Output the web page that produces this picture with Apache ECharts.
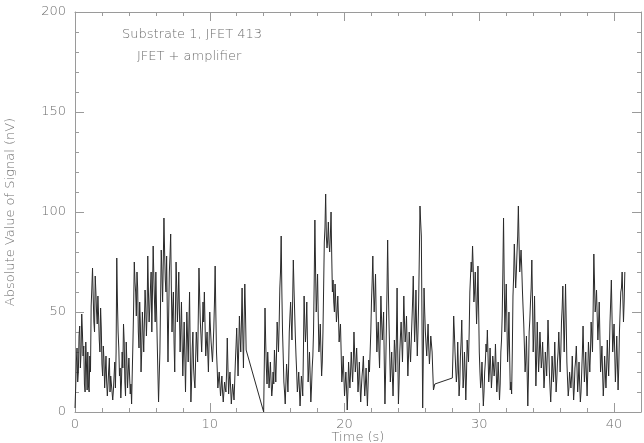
<!DOCTYPE html>
<html>
<head>
<meta charset="utf-8">
<script src="https://cdn.jsdelivr.net/npm/echarts@6/dist/echarts.min.js"></script>
<style>html,body{margin:0;padding:0;background:#fff}#c{width:644px;height:443px}</style>
</head>
<body>
<div id="c"></div>
<script>
// Sample interval of the recording (s) and start time of each recorded stretch
const sampleStep = 0.1;
const halfStep = 0.05;
const seg1Start = 0.0;
const seg2Start = 14.0;
const seg3Start = 28.0;

// Absolute value of signal (nV): samples at start + i*0.1 s
const seg1Values = [
  2,25,15,38,22,49,28,14,35,11,
  13,28,53,72,45,68,50,58,36,52,
  24,33,12,28,8,21,10,14,6,18,
  12,77,40,18,7,30,44,15,35,12,
  27,9,4,35,75,60,70,40,55,20,
  50,30,61,38,78,45,62,40,83,55,
  70,35,5,30,81,55,97,66,78,25,
  70,89,40,60,20,75,45,70,30,55,
  18,45,10,50,25,60,5,32,22,12,
  40,25,72,45,30,55,60,28,40,20,
  50,35,25,42,73,30,12,20,8,18,
  5,15,10,37,9,20,4,14,6,25,
  42,18,48,30,62,22,64,31
];
// ...and the samples in between (start + i*0.1 + 0.05 s)
const seg1Mid = [
  12,32,20,43,30,40,33,10,24,30,
  10,20,62,58,40,60,44,48,30,42,
  18,26,20,15,14,27,18,10,11,25,
  30,55,32,22,15,22,35,8,25,20,
  18,14,20,52,65,48,62,32,44,30,
  40,45,52,50,60,52,70,60,68,45,
  52,20,18,55,70,75,80,60,50,48,
  78,62,52,35,48,62,55,50,42,35,
  30,28,30,38,42,30,15,40,16,26,
  34,48,58,38,42,45,44,34,30,35,
  42,30,33,55,50,22,16,14,13,10,
  10,12,20,22,16,12,9,10,15,33,
  30,32,38,45,40,45,50
];
const seg2Values = [
  0,52,22,30,12,25,8,20,31,15,
  45,30,62,88,40,15,4,24,10,40,
  55,36,76,50,28,10,20,3,18,8,
  58,35,55,15,30,5,22,40,96,50,
  69,30,44,18,40,85,109,82,95,80,
  100,60,55,64,45,58,35,44,15,28,
  8,20,1,25,12,30,15,40,20,32,
  10,25,5,18,28,8,22,3,26,30,
  55,78,50,69,30,45,22,58,36,50,
  4,40,86,45,15,30,8,36,20,62,
  4,30,45,25,58,35,48,18,40,25,
  45,68,35,61,28,55,103,88,2,62,
  40,28,44,24,38,30,11,14
];
const seg2Mid = [
  25,35,14,22,18,15,12,14,24,28,
  38,44,70,60,28,10,14,18,22,48,
  45,55,62,38,20,14,12,10,14,30,
  45,42,35,22,18,12,28,65,72,58,
  48,35,30,25,62,92,88,86,84,88,
  78,66,50,55,50,48,40,30,20,18,
  14,12,10,18,20,22,25,30,25,22,
  16,14,12,22,16,14,12,14,20,40,
  65,62,58,48,38,32,40,46,42,25,
  20,60,62,30,22,18,20,30,38,30,
  15,38,35,40,45,40,32,28,32,35,
  55,50,45,42,40,78,95,45,30,50,
  34,36,32,30,34,20,12
];
const seg3Values = [
  17,48,30,15,35,8,28,46,12,30,
  6,36,25,60,75,83,55,70,44,73,
  30,12,25,3,20,34,41,15,32,12,
  28,18,34,10,25,6,30,48,97,40,
  64,25,50,11,9,58,84,62,80,103,
  70,81,61,44,20,38,3,40,55,76,
  30,58,13,45,20,40,22,35,12,30,
  18,46,20,5,28,15,35,10,25,40,
  20,45,63,30,64,25,8,20,12,28,
  6,22,33,10,25,5,20,43,15,30,
  8,35,20,45,30,79,50,61,36,55,
  20,33,8,28,12,36,18,45,66,30,
  44,15,38,11,40,60,70,45,70
];
const seg3Mid = [
  30,40,22,20,22,14,35,28,18,20,
  18,30,40,68,70,72,60,58,55,52,
  20,16,14,10,25,30,28,20,22,18,
  24,22,22,15,16,14,36,70,66,52,
  45,34,30,15,30,68,72,70,88,85,
  75,72,52,32,26,20,18,46,62,55,
  40,35,25,32,28,32,26,24,18,25,
  30,34,12,14,22,22,22,16,30,30,
  30,52,45,46,45,16,12,16,18,16,
  12,26,22,16,14,10,30,28,22,18,
  20,28,30,38,52,65,54,48,44,38,
  25,20,15,20,22,26,30,55,48,36,
  30,25,25,22,50,62,58,55
];

const xTicks = [0, 10, 20, 30, 40];
const yTicks = [0, 50, 100, 150, 200];
const titleLine1 = 'Substrate 1, JFET 413';
const titleLine2 = 'JFET + amplifier';
const xTitle = 'Time (s)';
const yTitle = 'Absolute Value of Signal (nV)';

const points = [];
[[seg1Start, seg1Values, seg1Mid], [seg2Start, seg2Values, seg2Mid], [seg3Start, seg3Values, seg3Mid]]
  .forEach(([s, vals, mids]) => {
    vals.forEach((v, i) => {
      const t = s + i * sampleStep;
      points.push([+t.toFixed(3), v]);
      if (i < mids.length) points.push([+(t + halfStep).toFixed(3), mids[i]]);
    });
  });

const FONT = 'DejaVu Sans';
const TXT = '#6e6e6e';
const AX = '#9a9a9a';
const FW = 200;

function axisBase(showLabel) {
  return {
    axisLine: { show: true, onZero: false, lineStyle: { color: AX, width: 1 } },
    axisTick: { show: true, inside: true, length: 9, lineStyle: { color: AX } },
    minorTick: { show: true, splitNumber: 5, length: 4, lineStyle: { color: AX } },
    splitLine: { show: false },
    minorSplitLine: { show: false },
    axisLabel: { show: showLabel, color: TXT, fontFamily: FONT, fontSize: 13, fontWeight: FW }
  };
}

const chart = echarts.init(document.getElementById('c'), null, { renderer: 'canvas' });
chart.setOption({
  animation: false,
  backgroundColor: '#fff',
  grid: { left: 75, right: 3, top: 12, bottom: 31, containLabel: false, outerBoundsMode: 'none' },
  xAxis: [
    Object.assign(axisBase(true), {
      type: 'value', min: xTicks[0], max: 42, interval: 10, position: 'bottom',
      name: xTitle, nameLocation: 'middle', nameGap: 19, nameMoveOverlap: false,
      nameTextStyle: { color: TXT, fontFamily: FONT, fontSize: 13, fontWeight: FW, verticalAlign: 'top' },
      axisLabel: { show: true, color: TXT, fontFamily: FONT, fontSize: 13, fontWeight: FW, margin: 6,
        formatter: v => xTicks.includes(v) ? String(v) : '' }
    }),
    Object.assign(axisBase(false), {
      type: 'value', min: 0, max: 42, interval: 10, position: 'top'
    })
  ],
  yAxis: [
    Object.assign(axisBase(true), {
      type: 'value', min: yTicks[0], max: yTicks[yTicks.length - 1], interval: 50, position: 'left',
      name: yTitle, nameLocation: 'middle', nameGap: 58, nameRotate: 90, nameMoveOverlap: false,
      nameTextStyle: { color: TXT, fontFamily: FONT, fontSize: 13, fontWeight: FW },
      axisLabel: { show: true, color: TXT, fontFamily: FONT, fontSize: 13, fontWeight: FW, margin: 9 }
    }),
    Object.assign(axisBase(false), {
      type: 'value', min: 0, max: 200, interval: 50, position: 'right'
    })
  ],
  graphic: [
    { type: 'text', left: 122, top: 28, style: { text: titleLine1, fill: TXT, font: '200 13px "DejaVu Sans"' } },
    { type: 'text', left: 137, top: 50, style: { text: titleLine2, fill: TXT, font: '200 13px "DejaVu Sans"' } }
  ],
  series: [{
    type: 'line', xAxisIndex: 0, yAxisIndex: 0, data: points,
    showSymbol: false, symbol: 'none',
    lineStyle: { color: '#2a2a2a', width: 1 },
    silent: true
  }]
});
</script>
</body>
</html>
